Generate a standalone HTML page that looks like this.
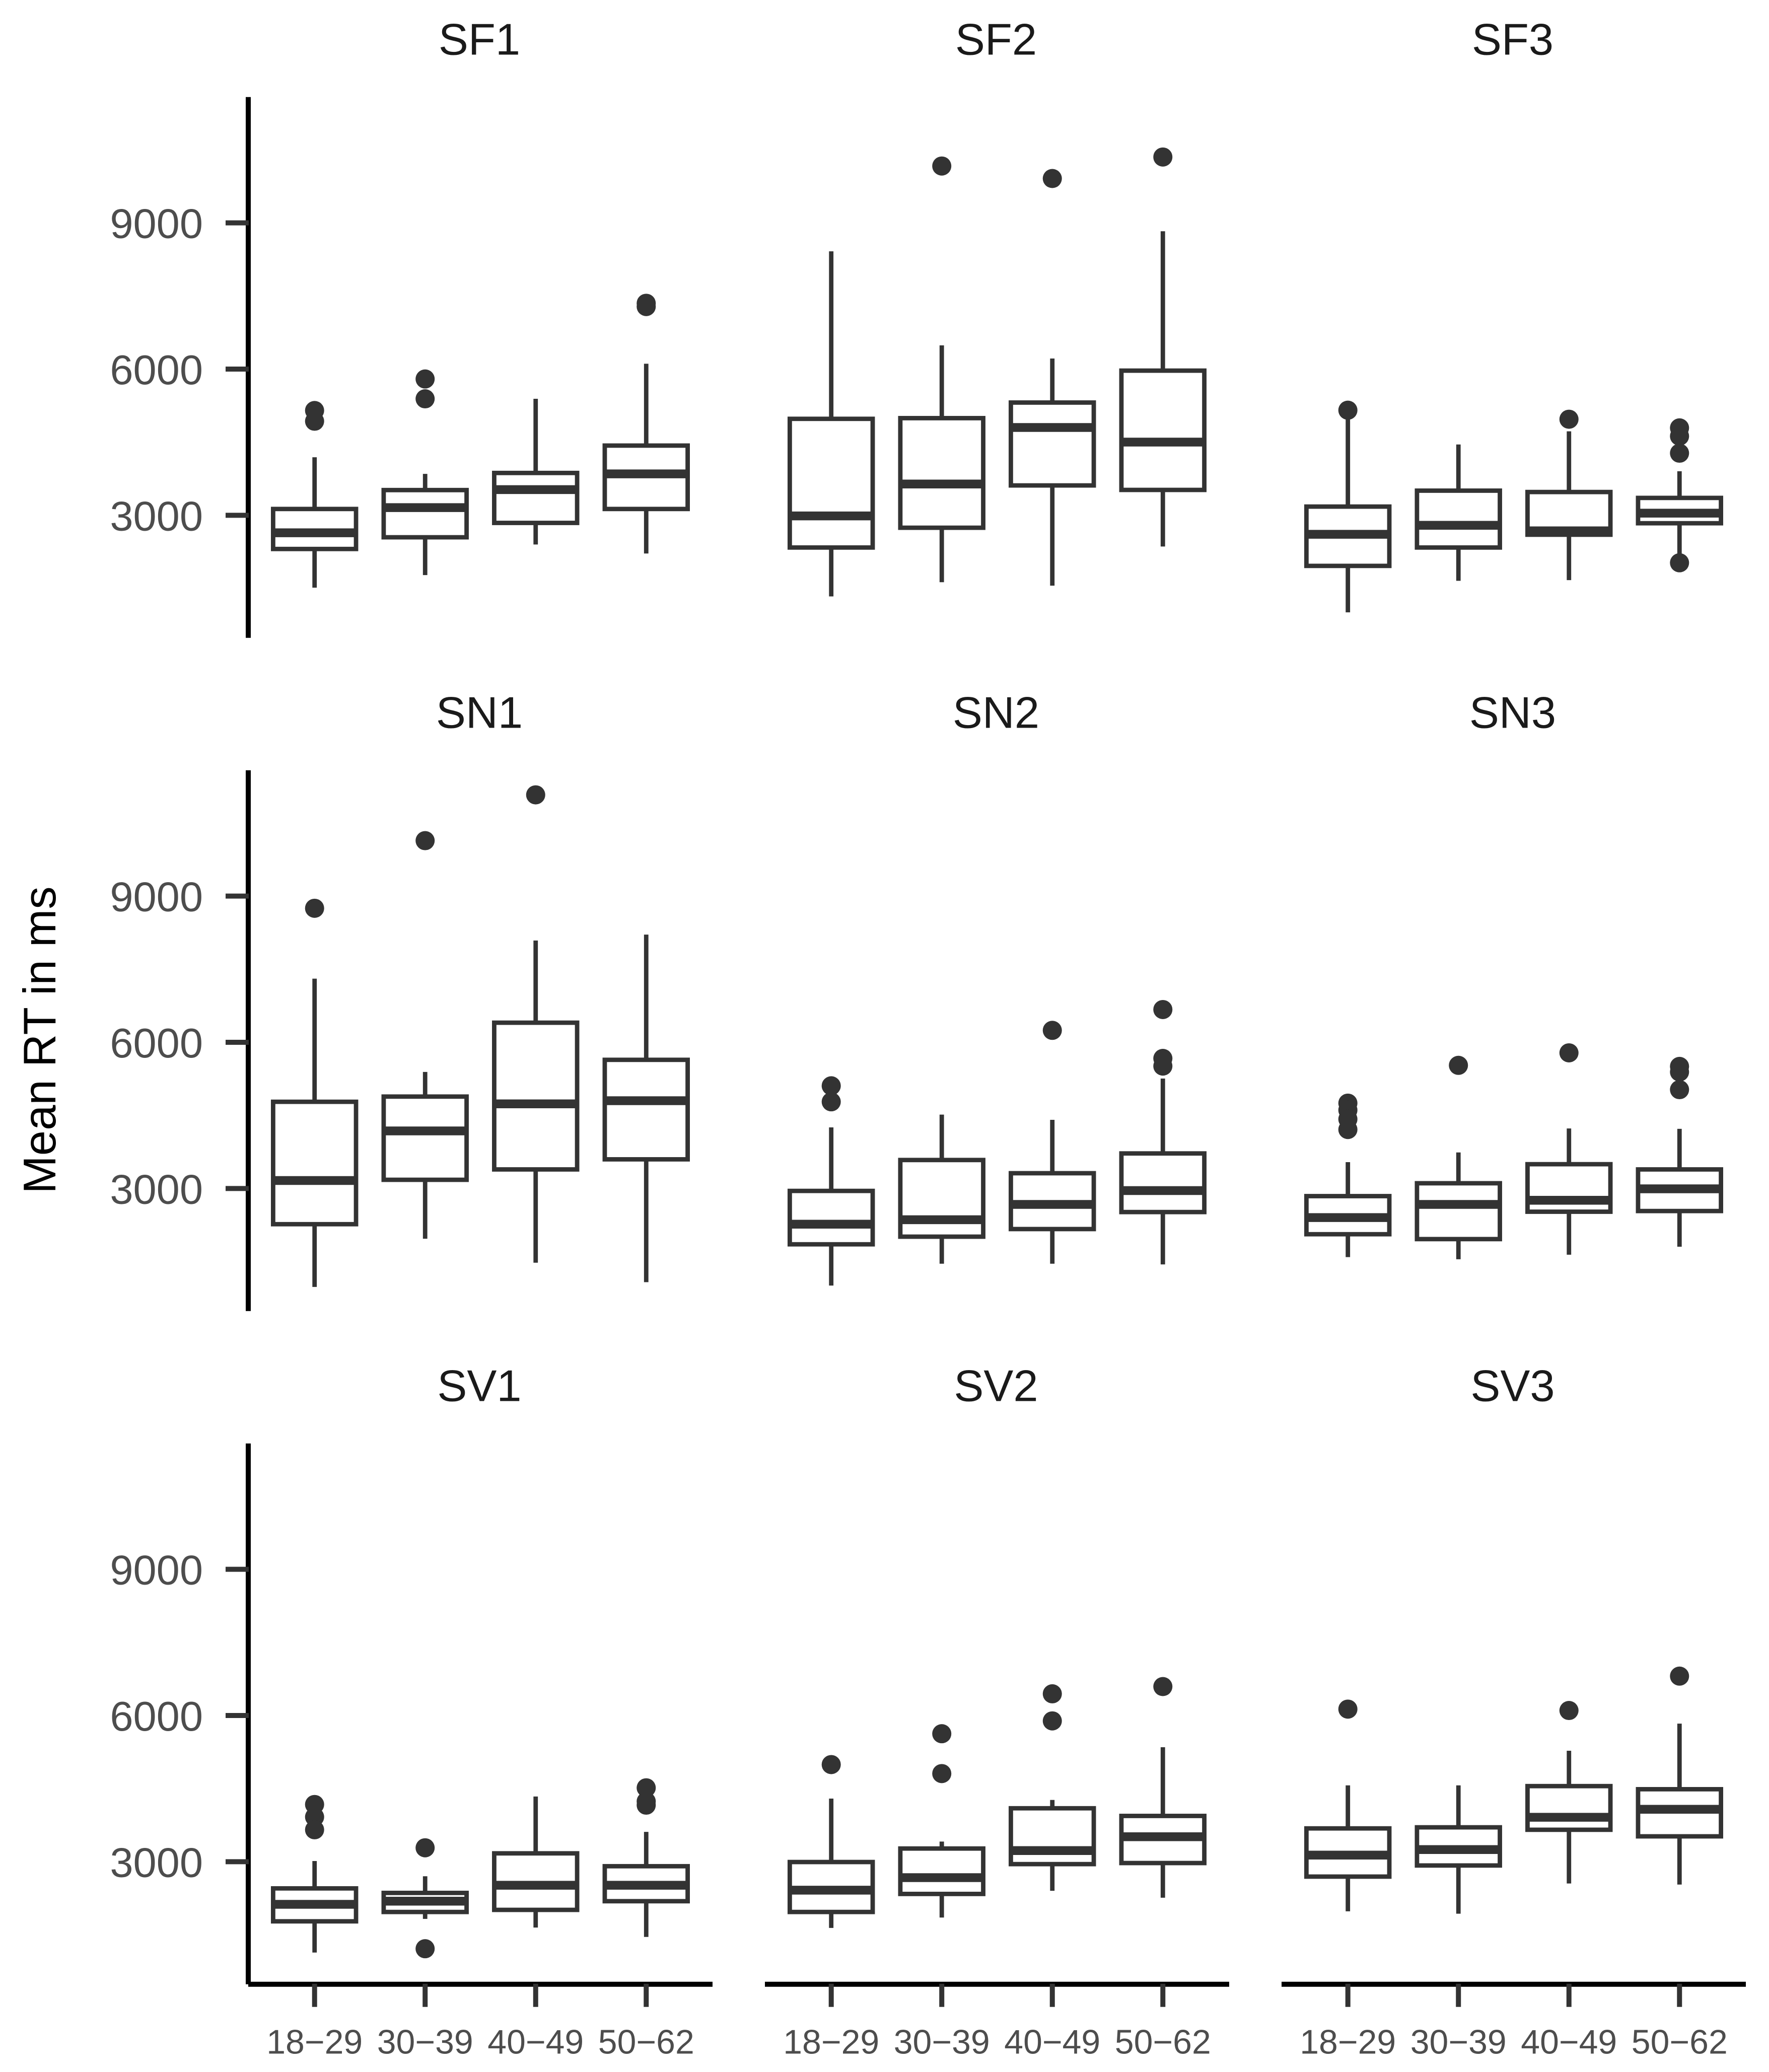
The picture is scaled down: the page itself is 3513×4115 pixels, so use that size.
<!DOCTYPE html>
<html lang="en">
<head>
<meta charset="utf-8">
<title>Mean RT in ms by age group</title>
<style>
html,body{margin:0;padding:0;background:#fff;}
svg{display:block;font-family:"Liberation Sans",Arial,sans-serif;}
</style>
</head>
<body>
<svg id="chart" xmlns="http://www.w3.org/2000/svg" width="3513" height="4115" viewBox="0 0 3513 4115">
  <rect x="0" y="0" width="3513" height="4115" fill="#ffffff"/>
  <text transform="translate(110 2065.5) rotate(-90)" text-anchor="middle" font-size="90.5" fill="#000000">Mean RT in ms</text>
</svg>
<script>
const panelNames = ['SF1','SF2','SF3','SN1','SN2','SN3','SV1','SV2','SV3'];
const ageGroups = ['18\u221229','30\u221239','40\u221249','50\u221262'];
const yTickValues = [3000,6000,9000];
const yTickLabels = ['3000','6000','9000'];
const yDomain = [485,11583];

const whiskerLow = [
  [1514,1772,2400,2215],
  [1335,1626,1555,2359],
  [1007,1655,1669,2167],
  [979,1968,1477,1078],
  [1007,1456,1456,1441],
  [1591,1548,1641,1804],
  [1135,1826,1648,1456],
  [1641,1854,2402,2260],
  [1982,1932,2552,2530]
];
const quartile1 = [
  [2308,2548,2843,3129],
  [2338,2744,3612,3520],
  [1961,2338,2601,2836],
  [2267,3178,3391,3598],
  [1854,2011,2167,2516],
  [2061,1961,2523,2537],
  [1776,1968,2011,2189],
  [1968,2338,2950,2972],
  [2694,2922,3655,3520]
];
const medians = [
  [2640,3157,3526,3849],
  [2986,3641,4801,4502],
  [2609,2794,2680,3043],
  [3164,4181,4737,4801],
  [2267,2359,2673,2957],
  [2402,2673,2758,2993],
  [2125,2189,2516,2516],
  [2416,2673,3228,3512],
  [3135,3249,3911,4075]
];
const quartile3 = [
  [3129,3517,3868,4430],
  [4979,4993,5313,5968],
  [3178,3505,3477,3356],
  [4779,4886,6402,5640],
  [2950,3584,3313,3719],
  [2843,3107,3498,3391],
  [2452,2359,3171,2907],
  [2993,3270,4096,3939],
  [3683,3705,4551,4487]
];
const whiskerHigh = [
  [4190,3849,5390,6110],
  [8416,6487,6217,8829],
  [4978,4452,4722,3904],
  [7306,5391,8089,8210],
  [4253,4516,4409,5256],
  [3541,3740,4231,4224],
  [3014,2701,4338,3612],
  [4295,3413,4267,5349],
  [4566,4566,5277,5833]
];
const outliers = [
  [[5150,4930],[5797,5390],[],[7350,7283]],
  [[],[10167],[9911],[10352]],
  [[5156],[],[4971],[4793,4623,4274,2025]],
  [[8750],[10138],[11078],[]],
  [[5107,4779],[],[6245],[6672,5669,5512]],
  [[4751,4608,4423,4210],[5527],[5783],[5505,5391,5028]],
  [[4174,3918,3655],[3285,1214],[],[4516,4238,4160]],
  [[4993],[5626,4808],[6445,5889],[6594]],
  [[6131],[],[6103],[6808]]
];

const SVG_NS = 'http://www.w3.org/2000/svg';
const chart = document.getElementById('chart');
const COL_LEFT = 493, COL_STEP = 1026, PANEL_W = 922;
const ROW_TOP = 192.7, ROW_STEP = 1337, PANEL_H = 1074;
const BAND = PANEL_W / (ageGroups.length - 1 + 1.2);
const BOX_W = BAND * 0.75;

function xScale(col, i) {
  return COL_LEFT + col * COL_STEP + (i + 0.6) * BAND;
}
function yScale(row, v) {
  const top = ROW_TOP + row * ROW_STEP;
  return top + PANEL_H * (yDomain[1] - v) / (yDomain[1] - yDomain[0]);
}
function make(tag, attrs, parent) {
  const el = document.createElementNS(SVG_NS, tag);
  for (const k in attrs) el.setAttribute(k, attrs[k]);
  parent.appendChild(el);
  return el;
}

panelNames.forEach(function (name, p) {
  const col = p % 3;
  const row = Math.floor(p / 3);
  const top = ROW_TOP + row * ROW_STEP;
  const bottom = top + PANEL_H;
  const left = COL_LEFT + col * COL_STEP;

  const panel = make('g', {}, chart);
  
  

  const title = make('text', {x: left + PANEL_W / 2 - 2, y: top - 84, 'text-anchor': 'middle', 'font-size': 88.5, fill: '#1a1a1a'}, panel);
  
  
  title.textContent = name;

  ageGroups.forEach(function (group, i) {
    const cx = xScale(col, i);
    const box = make('g', {}, panel);
    
    

    outliers[p][i].forEach(function (v) {
      const dot = make('circle', {cx: cx, cy: yScale(row, v), r: 19, fill: '#333333'}, box);
      
      
    });

    const upper = make('line', {x1: cx, x2: cx, y1: yScale(row, whiskerHigh[p][i]), y2: yScale(row, quartile3[p][i]), stroke: '#333333', 'stroke-width': 8.8}, box);
    
    

    const lower = make('line', {x1: cx, x2: cx, y1: yScale(row, quartile1[p][i]), y2: yScale(row, whiskerLow[p][i]), stroke: '#333333', 'stroke-width': 8.8}, box);
    
    

    const yQ3 = yScale(row, quartile3[p][i]);
    const yQ1 = yScale(row, quartile1[p][i]);
    const rect = make('rect', {x: cx - BOX_W / 2, y: yQ3, width: BOX_W, height: yQ1 - yQ3, fill: '#ffffff', stroke: '#333333', 'stroke-width': 8.8}, box);
    
    

    const med = make('line', {x1: cx - BOX_W / 2, x2: cx + BOX_W / 2, y1: yScale(row, medians[p][i]), y2: yScale(row, medians[p][i]), stroke: '#333333', 'stroke-width': 17.5}, box);
    
    
  });

  if (col === 0) {
    const yAxis = make('line', {x1: left, x2: left, y1: top, y2: bottom, stroke: '#000000', 'stroke-width': 10}, panel);
    
    

    yTickValues.forEach(function (v, t) {
      const y = yScale(row, v);
      const tick = make('line', {x1: left - 45, x2: left + 1, y1: y, y2: y, stroke: '#333333', 'stroke-width': 10}, panel);
      
      

      const label = make('text', {x: 403, y: y + 30, 'text-anchor': 'end', 'font-size': 83, fill: '#4d4d4d'}, panel);
      
      
      label.textContent = yTickLabels[t];
    });
  }

  if (row === 2) {
    const xAxis = make('line', {x1: left, x2: left + PANEL_W, y1: bottom, y2: bottom, stroke: '#000000', 'stroke-width': 10}, panel);
    
    

    ageGroups.forEach(function (group, i) {
      const cx = xScale(col, i);
      const tick = make('line', {x1: cx, x2: cx, y1: bottom - 1, y2: bottom + 45, stroke: '#333333', 'stroke-width': 10}, panel);
      
      

      const label = make('text', {x: cx, y: bottom + 138, 'text-anchor': 'middle', 'font-size': 68, fill: '#4d4d4d'}, panel);
      
      
      label.textContent = group;
    });
  }
});
</script>
</body>
</html>
